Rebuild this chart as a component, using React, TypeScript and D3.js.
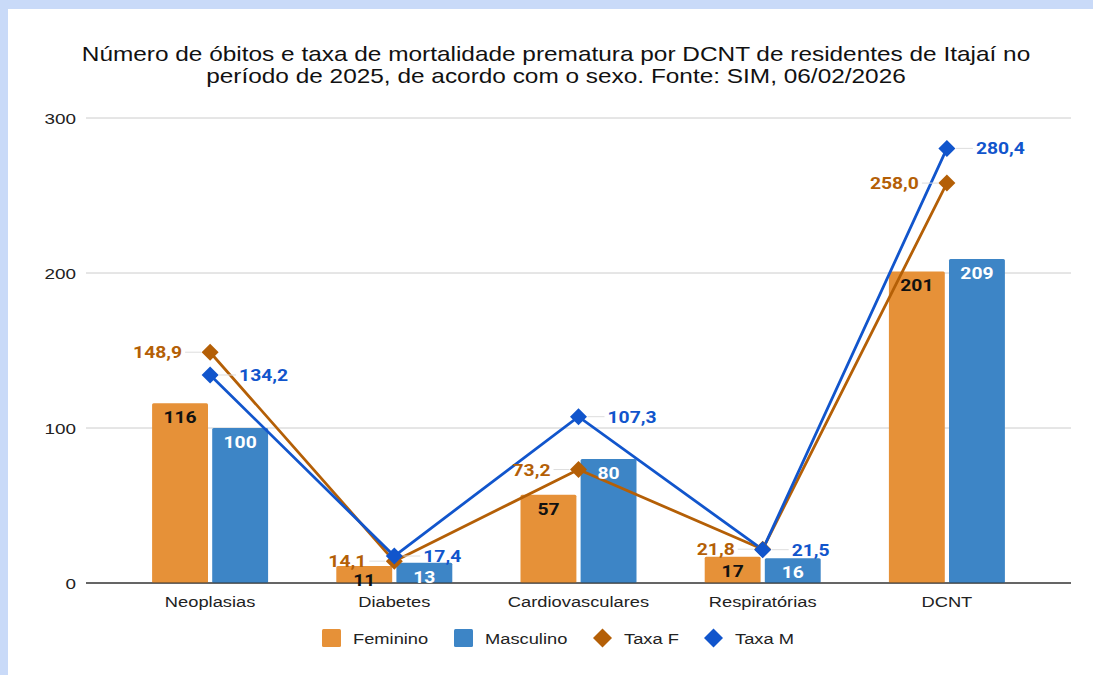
import React from "react";
import * as d3 from "d3";

const categories = ["Neoplasias", "Diabetes", "Cardiovasculares", "Respiratórias", "DCNT"];
const feminino = [116, 11, 57, 17, 201];
const masculino = [100, 13, 80, 16, 209];
const taxaF = [148.9, 14.1, 73.2, 21.8, 258.0];
const taxaM = [134.2, 17.4, 107.3, 21.5, 280.4];
const yTicks = [0, 100, 200, 300];
const titleLines = [
  "Número de óbitos e taxa de mortalidade prematura por DCNT de residentes de Itajaí no",
  "período de 2025, de acordo com o sexo. Fonte: SIM, 06/02/2026",
];
const legendItems = [
  { label: "Feminino", kind: "rect", color: "#e69138" },
  { label: "Masculino", kind: "rect", color: "#3d85c6" },
  { label: "Taxa F", kind: "diamond", color: "#b45f06" },
  { label: "Taxa M", kind: "diamond", color: "#1155cc" },
];

const W = 1093;
const H = 675;
const COL_F = "#e69138";
const COL_M = "#3d85c6";
const LINE_F = "#b45f06";
const LINE_M = "#1155cc";
const fmt = (v: number) => v.toFixed(1).replace(".", ",");
const axisFont = "Arial, 'Liberation Sans', sans-serif";
const labelFont = "Roboto, Arial, sans-serif";
const SX_AXIS = 1.22;
const SX_LABEL = 1.17;

function T(props: {
  x: number;
  y: number;
  sx: number;
  anchor?: "start" | "middle" | "end";
  font: string;
  size: number;
  weight?: string;
  fill: string;
  children: React.ReactNode;
}) {
  return (
    <text
      transform={`translate(${props.x},${props.y}) scale(${props.sx},1)`}
      textAnchor={props.anchor || "start"}
      fontFamily={props.font}
      fontSize={props.size}
      fontWeight={props.weight || "normal"}
      fill={props.fill}
    >
      {props.children}
    </text>
  );
}

export default function App() {
  const gridLeft = 86;
  const gridRight = 1071;
  const y = d3.scaleLinear().domain([0, 300]).range([583, 118]);
  const x = d3.scaleBand<string>().domain(categories).range([118, 1039]).paddingInner(0).paddingOuter(0);
  const inner = d3.scaleBand<string>().domain(["F", "M"]).range([0, 116]).paddingInner(0.07);
  const groupW = 116;
  const cx = (c: string) => (x(c) as number) + x.bandwidth() / 2;
  const line = d3
    .line<number>()
    .x((_, i) => cx(categories[i]))
    .y((d) => y(d));

  const diamond = (px: number, py: number, r: number) =>
    `M${px},${py - r}L${px + r},${py}L${px},${py + r}L${px - r},${py}Z`;

  const legendX = [322, 454, 593, 704];

  return (
    <svg
      width={W}
      height={H}
      style={{ position: "absolute", left: 0, top: 0, display: "block" }}
    >
      <rect x={0} y={0} width={W} height={H} fill="#c9daf8" />
      <rect x={8} y={9} width={W - 8} height={H - 9} fill="#ffffff" />
      {titleLines.map((t, i) => (
        <T
          key={i}
          x={556}
          y={61 + i * 22}
          sx={SX_AXIS}
          anchor="middle"
          font={axisFont}
          size={20}
          fill="#111"
        >
          {t}
        </T>
      ))}
      {yTicks.map((t) => (
        <g key={t}>
          <line
            x1={gridLeft}
            x2={gridRight}
            y1={y(t)}
            y2={y(t)}
            stroke={t === 0 ? "#333" : "#cccccc"}
            strokeWidth={1}
          />
          <T x={76} y={y(t) + 5.5} sx={SX_AXIS} anchor="end" font={axisFont} size={15.5} fill="#222">
            {t}
          </T>
        </g>
      ))}
      {categories.map((c, i) => {
        const gx = cx(c) - groupW / 2;
        const bars = [
          { key: "F", v: feminino[i], col: COL_F },
          { key: "M", v: masculino[i], col: COL_M },
        ];
        return (
          <g key={c}>
            {bars.map((b) => (
              <rect
                key={b.key}
                x={gx + (inner(b.key) as number)}
                y={y(b.v)}
                width={inner.bandwidth()}
                height={y(0) - y(b.v)}
                fill={b.col}
                rx={1.5}
              />
            ))}
            <T x={cx(c)} y={607} sx={SX_AXIS} anchor="middle" font={axisFont} size={15} fill="#222">
              {c}
            </T>
          </g>
        );
      })}
      <line x1={gridLeft} x2={gridRight} y1={y(0)} y2={y(0)} stroke="#333" strokeWidth={1} />
      <path d={line(taxaF) || ""} fill="none" stroke={LINE_F} strokeWidth={2.8} />
      <path d={line(taxaM) || ""} fill="none" stroke={LINE_M} strokeWidth={2.8} />
      {categories.map((c, i) => (
        <g key={"pts" + c}>
          <path d={diamond(cx(c), y(taxaF[i]), 8.5)} fill={LINE_F} />
          <path d={diamond(cx(c), y(taxaM[i]), 8.5)} fill={LINE_M} />
        </g>
      ))}
      {categories.map((c, i) => {
        const gx = cx(c) - groupW / 2;
        const bars = [
          { key: "F", v: feminino[i], tc: "#111" },
          { key: "M", v: masculino[i], tc: "#fff" },
        ];
        return bars.map((b) => (
          <T
            key={"bl" + c + b.key}
            x={gx + (inner(b.key) as number) + inner.bandwidth() / 2}
            y={y(b.v) + 20}
            sx={SX_LABEL}
            anchor="middle"
            font={labelFont}
            weight="bold"
            size={16.5}
            fill={b.tc}
          >
            {b.v}
          </T>
        ));
      })}
      {categories.map((c, i) => {
        const px = cx(c);
        const pfy = y(taxaF[i]);
        const pmy = y(taxaM[i]);
        return (
          <g key={"lbl" + c}>
            <line x1={px - 25} x2={px - 9} y1={pfy} y2={pfy} stroke="#dddddd" strokeWidth={1} />
            <T
              x={px - 28}
              y={pfy + 6}
              sx={SX_LABEL}
              anchor="end"
              font={labelFont}
              weight="bold"
              size={16.5}
              fill={LINE_F}
            >
              {fmt(taxaF[i])}
            </T>
            <line x1={px + 9} x2={px + 26} y1={pmy} y2={pmy} stroke="#dddddd" strokeWidth={1} />
            <T
              x={px + 29}
              y={pmy + 6}
              sx={SX_LABEL}
              anchor="start"
              font={labelFont}
              weight="bold"
              size={16.5}
              fill={LINE_M}
            >
              {fmt(taxaM[i])}
            </T>
          </g>
        );
      })}
      {legendItems.map((it, i) => {
        const lx = legendX[i];
        const ly = 638;
        return (
          <g key={it.label}>
            {it.kind === "rect" ? (
              <rect x={lx} y={ly - 9} width={19} height={18} fill={it.color} rx={1.5} />
            ) : (
              <path d={diamond(lx + 9.5, ly, 9.5)} fill={it.color} />
            )}
            <T x={lx + 31} y={ly + 5.5} sx={SX_AXIS} font={axisFont} size={15} fill="#222">
              {it.label}
            </T>
          </g>
        );
      })}
    </svg>
  );
}
